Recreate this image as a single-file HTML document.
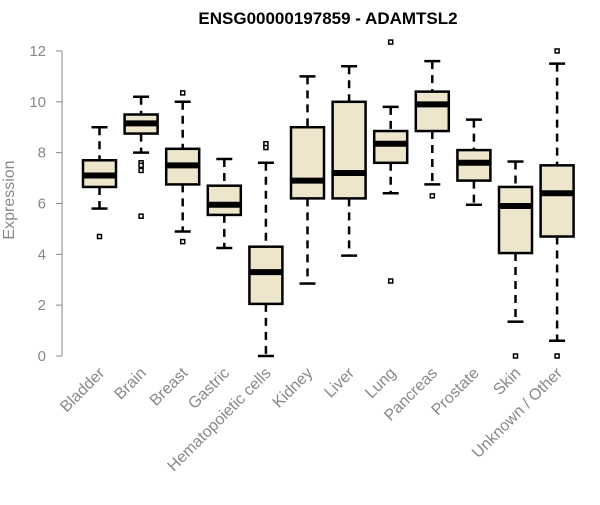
<!DOCTYPE html>
<html><head><meta charset="utf-8"><style>
body{margin:0;background:#fff;}
svg{font-family:"Liberation Sans",sans-serif;}
</style></head><body>
<svg width="600" height="500">
<text x="328" y="24" text-anchor="middle" font-weight="bold" font-size="17">ENSG00000197859 - ADAMTSL2</text>
<text transform="translate(14,200) rotate(-90)" text-anchor="middle" font-size="16" fill="#888">Expression</text>
<g id="yaxis"></g>
<g id="boxes"></g>
<g id="xlabels"></g>
</svg>
<script>
const categories=["Bladder","Brain","Breast","Gastric","Hematopoietic cells","Kidney","Liver","Lung","Pancreas","Prostate","Skin","Unknown / Other"];
const whiskerLow=[5.8,8.0,4.9,4.25,0,2.85,3.95,6.4,6.75,5.95,1.35,0.6];
const q1=[6.65,8.75,6.75,5.55,2.05,6.2,6.2,7.6,8.85,6.9,4.05,4.7];
const medians=[7.1,9.15,7.5,5.95,3.3,6.9,7.2,8.35,9.9,7.6,5.9,6.4];
const q3=[7.7,9.5,8.15,6.7,4.3,9.0,10.0,8.85,10.4,8.1,6.65,7.5];
const whiskerHigh=[9.0,10.2,10.0,7.75,7.6,11.0,11.4,9.8,11.6,9.3,7.65,11.5];
const outliers=[[4.7],[7.6,7.5,7.3,5.5],[10.35,4.5],[],[8.35,8.2],[],[],[12.35,2.95],[6.3],[],[0],[12.0,0]];
const yTicks=[0,2,4,6,8,10,12];
const NS="http://www.w3.org/2000/svg";
function y(v){return 356-v*25.42;}
function x(i){return 99.5+i*41.6;}
function mk(tag,attrs,parent){const e=document.createElementNS(NS,tag);for(const k in attrs)e.setAttribute(k,attrs[k]);parent.appendChild(e);return e;}
const ya=document.getElementById('yaxis');
mk('line',{x1:62,x2:62,y1:y(0),y2:y(12),stroke:'#888'},ya);
yTicks.forEach(t=>{
 const l=mk('line',{x1:56,x2:62,y1:y(t),y2:y(t),stroke:'#888'},ya);
 
 
 const tx=mk('text',{x:46,y:y(t)+5,'text-anchor':'end','font-size':15,fill:'#888'},ya);
 tx.textContent=t;
 
 
});
const bx=document.getElementById('boxes');
const xl=document.getElementById('xlabels');
categories.forEach((c,i)=>{
 const g=mk('g',{},bx);
 
 
 const cx=x(i),w=16.5;
 mk('line',{x1:cx,x2:cx,y1:y(whiskerHigh[i]),y2:y(q3[i]),stroke:'#000','stroke-width':2.5,'stroke-dasharray':'8,6'},g);
 mk('line',{x1:cx,x2:cx,y1:y(q1[i]),y2:y(whiskerLow[i]),stroke:'#000','stroke-width':2.5,'stroke-dasharray':'8,6'},g);
 mk('line',{x1:cx-8,x2:cx+8,y1:y(whiskerHigh[i]),y2:y(whiskerHigh[i]),stroke:'#000','stroke-width':2.5},g);
 mk('line',{x1:cx-8,x2:cx+8,y1:y(whiskerLow[i]),y2:y(whiskerLow[i]),stroke:'#000','stroke-width':2.5},g);
 mk('rect',{x:cx-w,y:y(q3[i]),width:2*w,height:y(q1[i])-y(q3[i]),fill:'#ede6cc',stroke:'#000','stroke-width':2.5},g);
 mk('line',{x1:cx-w,x2:cx+w,y1:y(medians[i]),y2:y(medians[i]),stroke:'#000','stroke-width':6},g);
 outliers[i].forEach(o=>{
  const p=mk('rect',{x:cx-2,y:y(o)-2,width:4,height:4,fill:'#fff',stroke:'#000','stroke-width':1.5},g);
  
  
 });
 const t=mk('text',{transform:`translate(${cx+6},${374}) rotate(-45)`,'text-anchor':'end','font-size':16,fill:'#888'},xl);
 t.textContent=c;
 
 
});
</script>
</body></html>
